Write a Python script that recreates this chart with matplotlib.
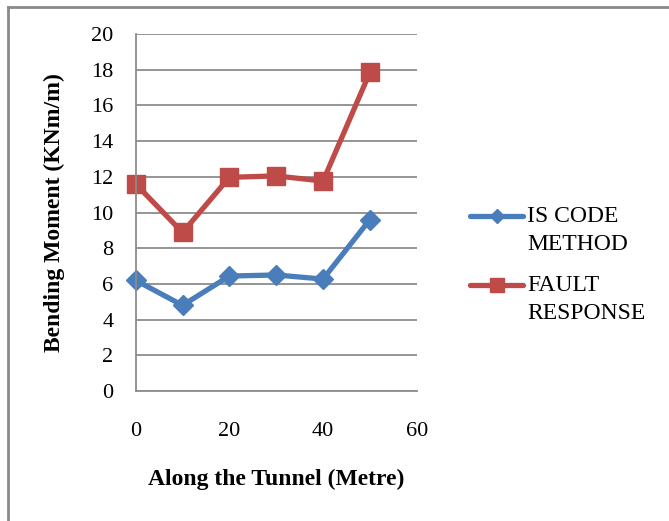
import matplotlib
matplotlib.use("Agg")
import matplotlib.pyplot as plt
from matplotlib.lines import Line2D

plt.rcParams['font.family'] = ['Liberation Serif', 'DejaVu Serif']

distance = [0, 10, 20, 30, 40, 50]
is_code = [6.2, 4.8, 6.44, 6.5, 6.27, 9.6]
fault_response = [11.6, 8.88, 11.97, 12.05, 11.76, 17.85]
series_names = ["IS CODE\nMETHOD", "FAULT\nRESPONSE"]
y_ticks = [0, 2, 4, 6, 8, 10, 12, 14, 16, 18, 20]
x_ticks = [0, 20, 40, 60]

W, H = 669, 521
fig = plt.figure(figsize=(W / 100, H / 100), dpi=100)
ax = fig.add_axes([135.7 / W, 1 - 391 / H, (416.7 - 135.7) / W, (391 - 34) / H])

grid_col = '#8c8c8c'
ax.set_xlim(0, 60)
ax.set_ylim(0, 20)
ax.set_yticks(y_ticks)
ax.set_xticks(x_ticks)
ax.yaxis.grid(True, color=grid_col, linewidth=1.3)
ax.set_axisbelow(True)
for s in ['top', 'right']:
    ax.spines[s].set_visible(False)
for s in ['left', 'bottom']:
    ax.spines[s].set_color(grid_col)
    ax.spines[s].set_linewidth(1.3)
ax.tick_params(length=0, labelsize=16, colors='black')
ax.tick_params(axis='y', pad=16)
ax.tick_params(axis='x', pad=22)

blue = '#4a7ebb'
red = '#be4b48'
styles = [dict(color=blue, marker='D', markersize=10),
          dict(color=red, marker='s', markersize=13)]
for ys, st, name in zip([is_code, fault_response], styles, series_names):
    ax.plot(distance, ys, linewidth=3.8, clip_on=False, label=name, **st)

ax.set_ylabel("Bending Moment (KNm/m)", fontsize=17, fontweight='bold', labelpad=19)
ax.set_xlabel("Along the Tunnel (Metre)", fontsize=17, fontweight='bold', labelpad=20)

# legend: handle sits level with the first line of each label
def px(x, y):
    return x / W, 1 - y / H

for i, (st, name) in enumerate(zip(styles, series_names)):
    y0 = 216 + i * 69
    (x1, yy), (x2, _) = px(470, y0), px(523, y0)
    fig.add_artist(Line2D([x1, x2], [yy, yy], transform=fig.transFigure,
                          color=st['color'], linewidth=3.8, solid_capstyle='round'))
    fig.add_artist(Line2D([(x1 + x2) / 2], [yy], transform=fig.transFigure,
                          color=st['color'], marker=st['marker'],
                          markersize=st['markersize'] * 0.75, linestyle='none'))
    tx, ty = px(527, y0 - 10)
    fig.text(tx, ty, name, fontsize=17, ha='left', va='top', linespacing=1.45)

# outer frame along the left and top edges
fig.add_artist(Line2D([7.5 / W, 7.5 / W], [0, 1 - 6.5 / H], transform=fig.transFigure,
                      color='#8a8a8a', linewidth=2))
fig.add_artist(Line2D([7.5 / W, 1], [1 - 6.5 / H, 1 - 6.5 / H], transform=fig.transFigure,
                      color='#8a8a8a', linewidth=2))

fig.savefig("out.png", dpi=100)
